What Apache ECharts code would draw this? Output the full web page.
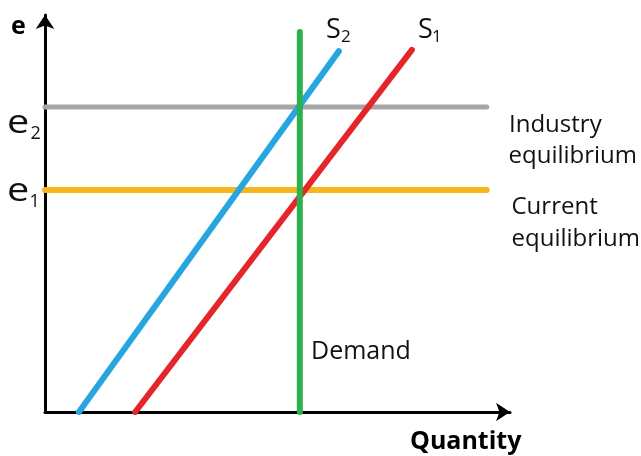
<!DOCTYPE html>
<html lang="en">
<head>
    <meta charset="UTF-8">
    <title>Supply shift</title>
    <script src="https://cdn.jsdelivr.net/npm/echarts@6/dist/echarts.min.js"></script>
    <style>
        html, body { margin: 0; padding: 0; background: #fff; }
        #chart { width: 641px; height: 456px; }
    </style>
</head>
<body>
<div id="chart"></div>
<script>
    // chart values (axis units 0..100)
    var industryLine = [[0, 76.8], [95, 76.8]];
    var currentLine = [[0, 55.9], [95, 55.9]];
    var demandLine = [[54.8, 0], [54.8, 95.7]];
    var supply2 = [[7.3, 0], [63.2, 90.9]];
    var supply1 = [[19.4, 0], [78.9, 91.2]];

    var font = '"Open Sans"';
    var myChart = echarts.init(document.getElementById('chart'));

    function seg(name, data, color, width) {
        return {
            name: name,
            type: 'line',
            data: data,
            showSymbol: false,
            silent: true,
            animation: false,
            lineStyle: { color: color, width: width, cap: 'round' }
        };
    }

    // text helper: x,y = left edge / vertical middle
    function txt(x, y, str, size, bold, scaleX) {
        return {
            type: 'text', x: x, y: y, scaleX: scaleX || 1,
            style: {
                text: str,
                font: (bold ? 'bold ' : '') + size + 'px ' + font,
                fill: bold ? '#000' : '#111',
                textAlign: 'left', align: 'left',
                textVerticalAlign: 'middle', verticalAlign: 'middle'
            }
        };
    }

    var axisStyle = {
        axisLine: { lineStyle: { color: '#000', width: 3 }, symbol: ['none', 'arrow'], symbolSize: [14, 14] },
        axisTick: { show: false }, axisLabel: { show: false }, splitLine: { show: false }
    };

    var option = {
        animation: false,
        grid: { left: 45, right: 131, top: 15, bottom: 44 },
        xAxis: Object.assign({ type: 'value', min: 0, max: 100 }, axisStyle),
        yAxis: Object.assign({ type: 'value', min: 0, max: 100 }, axisStyle),
        series: [
            seg('Industry equilibrium', industryLine, '#a6a6a6', 5),
            seg('Current equilibrium', currentLine, '#f5b71b', 6),
            seg('S2', supply2, '#27a5df', 6),
            seg('S1', supply1, '#e4262b', 6),
            seg('Demand', demandLine, '#2bb24c', 6)
        ],
        graphic: [
            txt(11, 27, 'e', 25, true),
            txt(7, 124, 'e', 33, false, 1.2),
            txt(30.5, 134, '2', 18),
            txt(7, 191.5, 'e', 33, false, 1.2),
            txt(29.5, 201.5, '1', 18),
            txt(326, 30.5, 'S', 27),
            txt(341, 37.5, '2', 17),
            txt(418, 30.5, 'S', 27),
            txt(432, 37.5, '1', 17),
            txt(509, 125.5, 'Industry', 24),
            txt(508.5, 156, 'equilibrium', 24),
            txt(511.5, 207.5, 'Current', 24),
            txt(511.5, 239, 'equilibrium', 24),
            txt(311, 352, 'Demand', 25),
            txt(410, 442, 'Quantity', 25, true)
        ]
    };
    myChart.setOption(option);
</script>
</body>
</html>
